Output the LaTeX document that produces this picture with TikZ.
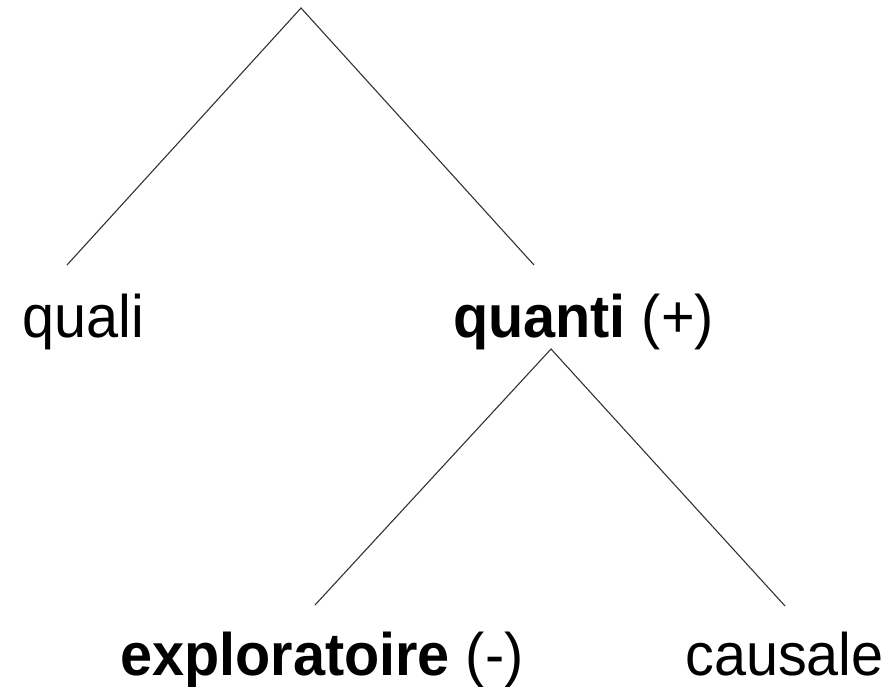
\documentclass[tikz,border=0pt]{standalone}
\usepackage{fontspec}
\setmainfont{Liberation Sans}[FakeStretch=0.96]
\begin{document}
\begin{tikzpicture}[x=1pt,y=-1pt,
  lbl/.style={anchor=base west,inner sep=0pt,font=\fontsize{60}{72}\selectfont},
  branch/.style={line width=1.1pt,draw=black!80}]
\useasboundingbox[fill=white] (0,0) rectangle (890,686);
\coordinate (top) at (301,8);
\coordinate (tl) at (67,265);
\coordinate (tr) at (534,265);
\coordinate (mid) at (551,349);
\coordinate (bl) at (315,605);
\coordinate (br) at (785,606);
\node[lbl] (quali) at (22,337) {quali};
\node[lbl] (quanti) at (453,337) {\textbf{quanti} (+)};
\node[lbl] (explo) at (120,675) {\textbf{exploratoire} (-)};
\node[lbl] (causale) at (685,675) {causale};
\draw[branch] (tl) -- (top) -- (tr);
\draw[branch] (bl) -- (mid) -- (br);
\end{tikzpicture}
\end{document}
